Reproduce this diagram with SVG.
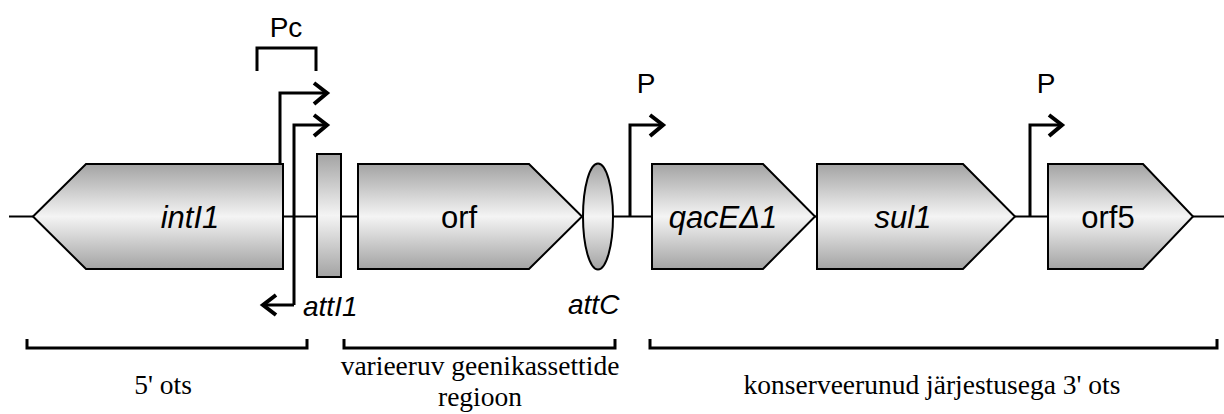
<svg xmlns="http://www.w3.org/2000/svg" width="1224" height="414" viewBox="0 0 1224 414">
<style>
.gene{stroke:#000;stroke-width:2;fill:url(#g)}
.ln{fill:none;stroke:#000;stroke-width:2}
.pr{fill:none;stroke:#000;stroke-width:3}
.hd{fill:none;stroke:#000;stroke-width:4;stroke-linejoin:miter}
.br{fill:none;stroke:#000;stroke-width:3}
.lab{font-family:"Liberation Sans",Arial,sans-serif;font-size:31px;fill:#000}
.it{font-style:italic}
.sm{font-family:"Liberation Sans",Arial,sans-serif;font-size:28px;fill:#000}
.tm{font-family:"Liberation Serif","Times New Roman",serif;font-size:27.5px;fill:#000;text-anchor:middle}
</style>
<defs>
<linearGradient id="g" x1="0" y1="0" x2="0" y2="1">
<stop offset="0" stop-color="#a3a3a3"/>
<stop offset="0.5" stop-color="#f4f4f4"/>
<stop offset="1" stop-color="#a3a3a3"/>
</linearGradient>
</defs>
<g id="backbone">
<line class="ln" x1="9" y1="216.5" x2="1224" y2="216.5"/>
</g>
<g id="intI1">
<polygon class="gene" points="33,216.5 86,164 283,164 283,269 86,269"/>
<text class="lab it" x="190" y="228" text-anchor="middle">intI1</text>
</g>
<g id="attI1">
<rect class="gene" x="317" y="154" width="24" height="123"/>
<text class="sm it" x="303" y="316">attI1</text>
</g>
<g id="orf">
<polygon class="gene" points="358,164 529,164 582,216.5 529,269 358,269"/>
<text class="lab" x="459" y="228" text-anchor="middle">orf</text>
</g>
<g id="attC">
<ellipse class="gene" cx="598" cy="216.5" rx="15" ry="53"/>
<text class="sm it" x="568" y="314">attC</text>
</g>
<g id="qacE">
<polygon class="gene" points="652,164 763,164 815,216.5 763,269 652,269"/>
<text class="lab it" x="723" y="228" text-anchor="middle">qacEΔ1</text>
</g>
<g id="sul1">
<polygon class="gene" points="817,164 963,164 1015,216.5 963,269 817,269"/>
<text class="lab it" x="903" y="228" text-anchor="middle">sul1</text>
</g>
<g id="orf5">
<polygon class="gene" points="1048,164 1143,164 1193,216.5 1143,269 1048,269"/>
<text class="lab" x="1108" y="228" text-anchor="middle">orf5</text>
</g>
<g id="promoters">
<text class="sm" x="286" y="37" text-anchor="middle">Pc</text>
<path class="pr" d="M257,71 V48 H316 V71"/>
<path class="pr" d="M280,164 V93 H325"/>
<polyline class="hd" points="314,83 327,93 314,104"/>
<path class="pr" d="M294,305 V125 H325"/>
<polyline class="hd" points="314,115 327,125 314,136"/>
<path class="pr" d="M294,305 H265"/>
<polyline class="hd" points="276,295 263,305 276,315"/>
<text class="sm" x="646" y="93" text-anchor="middle">P</text>
<path class="pr" d="M630,216 V125 H661"/>
<polyline class="hd" points="650,115 663,125 650,136"/>
<text class="sm" x="1046" y="93" text-anchor="middle">P</text>
<path class="pr" d="M1030,216 V125 H1060"/>
<polyline class="hd" points="1049,115 1062,125 1049,136"/>
</g>
<g id="regions">
<path class="br" d="M27,339 V348 H307 V339"/>
<path class="br" d="M344,339 V348 H615 V339"/>
<path class="br" d="M650,339 V348 H1217 V339"/>
<text class="tm" x="163" y="394">5' ots</text>
<text class="tm" x="480" y="375">varieeruv geenikassettide</text>
<text class="tm" x="480" y="406">regioon</text>
<text class="tm" x="932" y="394">konserveerunud järjestusega 3' ots</text>
</g>
</svg>
